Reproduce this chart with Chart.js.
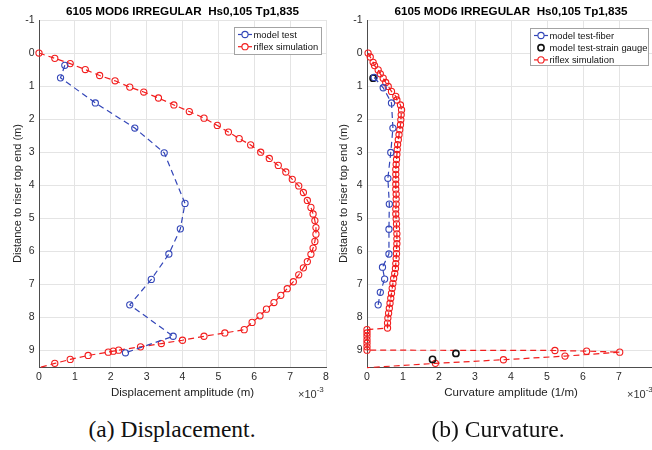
<!DOCTYPE html>
<html lang="en">
<head>
<meta charset="UTF-8">
<title>6105 MOD6 IRREGULAR - displacement and curvature</title>
<script src="https://cdn.jsdelivr.net/npm/chart.js"></script>
<style>
  html, body { margin: 0; padding: 0; background: #fff; width: 652px; height: 450px; overflow: hidden; }
  .wrap { position: relative; width: 652px; height: 450px; overflow: hidden; }
  canvas { position: absolute; top: 0; }
  #dispChart { left: 0; }
  #curvChart { left: 327px; }
  .caption {
    position: absolute; top: 417px; line-height: 24px;
    font-family: "Liberation Serif", "DejaVu Serif", serif; font-size: 23.5px; color: #111;
    transform: translateX(-50%); white-space: nowrap;
  }
</style>
</head>
<body>
<div class="wrap">
  <canvas id="dispChart" width="340" height="410"></canvas>
  <canvas id="curvChart" width="340" height="410"></canvas>
  <div class="caption" style="left:172px">(a) Displacement.</div>
  <div class="caption" style="left:498px">(b) Curvature.</div>
</div>

<script>
// shared ticks
const xTicks = [0, 1, 2, 3, 4, 5, 6, 7, 8];
const yTicks = [-1, 0, 1, 2, 3, 4, 5, 6, 7, 8, 9];

// (a) displacement, x in 1e-3 m, y = distance to riser top end (m)
const dispTestX = [0.72, 0.60, 1.57, 2.67, 3.49, 4.07, 3.94, 3.62, 3.13, 2.53, 3.74, 2.41];
const dispTestY = [0.37, 0.75, 1.51, 2.27, 3.02, 4.55, 5.32, 6.08, 6.85, 7.62, 8.57, 9.07];

const dispRiflexX = [0, 0.44, 0.87, 1.29, 1.69, 2.12, 2.53, 2.92, 3.33, 3.76, 4.19, 4.60, 4.97, 5.28,
  5.58, 5.90, 6.18, 6.42, 6.67, 6.88, 7.06, 7.24, 7.37, 7.48, 7.58, 7.64, 7.69, 7.72, 7.72, 7.69,
  7.64, 7.58, 7.48, 7.37, 7.24, 7.09, 6.92, 6.74, 6.55, 6.34, 6.16, 5.94, 5.72, 5.18, 4.60, 4.00,
  3.41, 2.83, 2.22, 2.07, 1.93, 1.37, 0.87, 0.44, 0];
const dispRiflexY = [0, 0.16, 0.32, 0.50, 0.68, 0.84, 1.03, 1.18, 1.36, 1.57, 1.77, 1.97, 2.19, 2.39,
  2.59, 2.78, 3.00, 3.19, 3.40, 3.60, 3.82, 4.02, 4.22, 4.46, 4.67, 4.87, 5.07, 5.28, 5.48, 5.70,
  5.90, 6.09, 6.31, 6.50, 6.71, 6.92, 7.13, 7.33, 7.55, 7.75, 7.95, 8.15, 8.37, 8.47, 8.57, 8.69,
  8.79, 8.89, 8.99, 9.02, 9.05, 9.15, 9.27, 9.39, 9.52];

// (b) curvature, x in 1e-3 1/m
const curvFiberX = [0.20, 0.45, 0.68, 0.72, 0.66, 0.58, 0.62, 0.61, 0.61, 0.43, 0.49, 0.37, 0.31];
const curvFiberY = [0.74, 1.05, 1.51, 2.27, 3.01, 3.79, 4.57, 5.33, 6.08, 6.48, 6.84, 7.24, 7.62];

const curvGaugeX = [0.17, 2.47, 1.82];
const curvGaugeY = [0.76, 9.09, 9.27];

const curvRiflexX = [0.03, 0.09, 0.17, 0.21, 0.31, 0.37, 0.45, 0.52, 0.59, 0.68, 0.80, 0.83, 0.93,
  0.96, 0.95, 0.94, 0.93, 0.91, 0.89, 0.87, 0.85, 0.84, 0.83, 0.82, 0.81, 0.80, 0.80, 0.80, 0.80,
  0.80, 0.81, 0.81, 0.81, 0.80, 0.80, 0.81, 0.82, 0.82, 0.83, 0.83, 0.83, 0.82, 0.82, 0.81, 0.80,
  0.79, 0.77, 0.74, 0.72, 0.70, 0.68, 0.66, 0.64, 0.62, 0.60, 0.58, 0.57, 0.57,
  0, 0, 0, 0, 0, 0, 0, 5.22, 6.10, 7.02, 5.50, 3.79, 1.90, 0];
const curvRiflexY = [0, 0.12, 0.28, 0.38, 0.51, 0.63, 0.76, 0.89, 1.01, 1.16, 1.31, 1.42, 1.57,
  1.72, 1.87, 2.02, 2.17, 2.32, 2.47, 2.62, 2.77, 2.92, 3.07, 3.22, 3.37, 3.52, 3.67, 3.82, 3.97,
  4.12, 4.27, 4.42, 4.57, 4.72, 4.87, 5.02, 5.17, 5.32, 5.47, 5.62, 5.77, 5.92, 6.07, 6.22, 6.37,
  6.52, 6.67, 6.82, 6.97, 7.12, 7.27, 7.42, 7.57, 7.72, 7.87, 8.02, 8.17, 8.32,
  8.37, 8.47, 8.57, 8.68, 8.78, 8.89, 8.99, 9.00, 9.02, 9.05, 9.17, 9.28, 9.39, 9.52];

const BLUE = '#3346b8';
const RED = '#f21d1d';
const BLACK = '#111111';
const Y_MAX = 9.5;
const MARKER = 3.1;

Chart.defaults.font.family = '"Liberation Sans", Arial, sans-serif';
Chart.defaults.color = '#333';

const pts = (xs, ys) => xs.map((x, i) => ({ x: x, y: ys[i] }));

function series(label, xs, ys, color, withLine) {
  return {
    label: label,
    data: pts(xs, ys),
    showLine: withLine,
    borderColor: color,
    borderWidth: 1.2,
    borderDash: [6, 4],
    pointStyle: 'circle',
    pointRadius: c => (c.raw && c.raw.y > Y_MAX) ? 0 : MARKER,
    pointBorderWidth: withLine ? 1.1 : 1.6,
    pointBorderColor: color,
    pointBackgroundColor: 'rgba(0,0,0,0)',
    clip: false
  };
}

// title, x10^-3 note and matlab-style legend box
const decor = {
  id: 'decor',
  afterDraw(chart, args, o) {
    const { ctx, chartArea: a } = chart;
    ctx.save();
    ctx.fillStyle = '#000';
    ctx.font = 'bold 11.7px "Liberation Sans", Arial, sans-serif';
    ctx.textAlign = 'center';
    ctx.textBaseline = 'middle';
    ctx.fillText(o.title, (a.left + a.right) / 2, 11.3);

    // exponent
    ctx.fillStyle = '#333';
    ctx.textAlign = 'left';
    ctx.textBaseline = 'alphabetic';
    ctx.font = '11px "Liberation Sans", Arial, sans-serif';
    const ex = a.right - 28;
    ctx.fillText('\u00d710', ex, 397.5);
    const w = ctx.measureText('\u00d710').width;
    ctx.font = '8px "Liberation Sans", Arial, sans-serif';
    ctx.fillText('-3', ex + w, 392);

    // legend
    const b = o.legend;
    ctx.fillStyle = '#fff';
    ctx.fillRect(b.x, b.y, b.w, b.h);
    ctx.strokeStyle = '#a3a3a3';
    ctx.lineWidth = 1;
    ctx.strokeRect(b.x + 0.5, b.y + 0.5, b.w, b.h);
    ctx.font = '9.4px "Liberation Sans", Arial, sans-serif';
    ctx.textBaseline = 'middle';
    chart.data.datasets.forEach((ds, i) => {
      const cy = b.y + 7.5 + i * 12.2;
      const sx = b.x + 4;
      ctx.strokeStyle = ds.borderColor;
      if (ds.showLine) {
        ctx.lineWidth = 1.2;
        ctx.beginPath();
        ctx.moveTo(sx, cy);
        ctx.lineTo(sx + 14, cy);
        ctx.stroke();
      }
      ctx.fillStyle = '#fff';
      ctx.lineWidth = ds.pointBorderWidth;
      ctx.beginPath();
      ctx.arc(sx + 7, cy, MARKER, 0, Math.PI * 2);
      ctx.fill();
      ctx.stroke();
      ctx.fillStyle = '#111';
      ctx.fillText(ds.label, sx + 15.5, cy + 0.5);
    });
    ctx.restore();
  }
};

function axes(xLabel, yWidth, yTitlePad) {
  return {
    x: {
      type: 'linear', min: 0, max: 8,
      afterBuildTicks: s => { s.ticks = xTicks.map(v => ({ value: v })); },
      afterFit: s => { s.height = 43; },
      grid: { color: '#e4e4e4', drawTicks: false },
      border: { color: '#4d4d4d', width: 1 },
      ticks: { padding: 4, font: { size: 10.5 }, color: '#2b2b2b', maxRotation: 0 },
      title: { display: true, text: xLabel, font: { size: 11.5 }, color: '#222', padding: { top: 0, bottom: 10 } }
    },
    y: {
      type: 'linear', min: -1, max: Y_MAX, reverse: true,
      afterBuildTicks: s => { s.ticks = yTicks.map(v => ({ value: v })); },
      afterFit: s => { s.width = yWidth; },
      grid: { color: '#e4e4e4', drawTicks: false },
      border: { color: '#4d4d4d', width: 1 },
      ticks: { padding: 4.5, font: { size: 10.5 }, color: '#2b2b2b' },
      title: { display: true, text: 'Distance to riser top end (m)', font: { size: 11 }, color: '#222', padding: { top: yTitlePad, bottom: 0 } }
    }
  };
}

function makeChart(id, datasets, xLabel, yWidth, yTitlePad, padRight, legend) {
  return new Chart(document.getElementById(id), {
    type: 'scatter',
    data: { datasets: datasets },
    options: {
      responsive: false,
      animation: false,
      devicePixelRatio: 1,
      layout: { padding: { left: 0, top: 20, right: padRight, bottom: 0 } },
      scales: axes(xLabel, yWidth, yTitlePad),
      plugins: {
        legend: { display: false },
        tooltip: { enabled: false },
        decor: { title: '6105 MOD6 IRREGULAR  Hs0,105 Tp1,835', legend: legend }
      }
    },
    plugins: [decor]
  });
}

makeChart('dispChart', [
  series('model test', dispTestX, dispTestY, BLUE, true),
  series('riflex simulation', dispRiflexX, dispRiflexY, RED, true)
], 'Displacement amplitude (m)', 39, 11.4, 14, { x: 234, y: 27, w: 87, h: 27 });

makeChart('curvChart', [
  series('model test-fiber', curvFiberX, curvFiberY, BLUE, true),
  series('model test-strain gauge', curvGaugeX, curvGaugeY, BLACK, false),
  series('riflex simulation', curvRiflexX, curvRiflexY, RED, true)
], 'Curvature amplitude (1/m)', 40, 10.3, 12, { x: 203, y: 28, w: 118, h: 37 });
</script>
</body>
</html>
